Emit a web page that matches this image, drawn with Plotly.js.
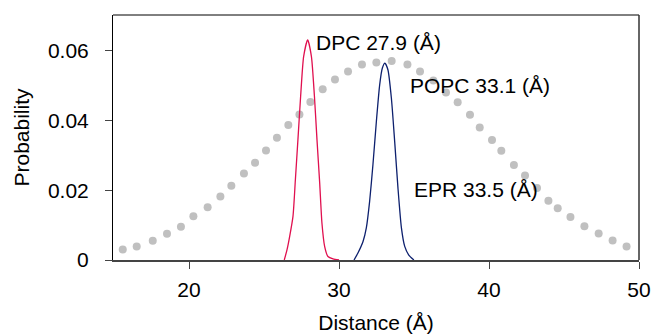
<!DOCTYPE html>
<html>
<head>
<meta charset="utf-8">
<script src="https://cdn.plot.ly/plotly-3.0.1.min.js"></script>
<style>html,body{margin:0;padding:0;background:#fff;}#chart{width:654px;height:334px;}</style>
</head>
<body>
<div id="chart"></div>
<script>
// EPR distance distribution (grey dots)
var eprX = [15.58,16.51,17.58,18.53,19.46,20.29,21.24,22.09,22.82,23.66,24.40,25.13,25.86,26.62,27.36,28.09,28.91,29.73,30.60,31.53,32.49,33.51,34.56,35.40,36.29,37.13,37.91,38.73,39.38,40.20,40.82,41.66,42.40,43.20,43.96,44.58,45.43,46.36,47.31,48.24,49.17];
var eprY = [0.0030,0.0039,0.0055,0.0075,0.0095,0.0125,0.0151,0.0182,0.0213,0.0248,0.0279,0.0314,0.0350,0.0387,0.0417,0.0453,0.0489,0.0517,0.0540,0.0560,0.0566,0.0570,0.0560,0.0540,0.0514,0.0480,0.0452,0.0416,0.0380,0.0344,0.0313,0.0272,0.0242,0.0206,0.0170,0.0148,0.0123,0.0097,0.0076,0.0056,0.0039];
// DPC simulated distribution (red)
var dpcX = [26.35,26.53,26.71,26.93,27.09,27.26,27.44,27.64,27.91,28.16,28.36,28.53,28.71,28.86,29.04,29.26,29.60,30.00];
var dpcY = [0.0000,0.0029,0.0068,0.0125,0.0230,0.0345,0.0469,0.0583,0.0631,0.0583,0.0469,0.0345,0.0221,0.0106,0.0039,0.0010,0.0003,0.0000];
// POPC simulated distribution (blue)
var popcX = [31.00,31.26,31.60,31.82,32.04,32.26,32.49,32.71,32.89,33.06,33.26,33.49,33.71,33.93,34.16,34.38,34.64,34.99];
var popcY = [0.0000,0.0020,0.0053,0.0092,0.0168,0.0273,0.0397,0.0502,0.0550,0.0564,0.0545,0.0464,0.0340,0.0206,0.0092,0.0039,0.0015,0.0000];
var xTicks = [20,30,40,50];
var yTicks = [0,0.02,0.04,0.06];
var yTickText = ['0','0.02','0.04','0.06'];
var labels = ['DPC 27.9 (Å)','POPC 33.1 (Å)','EPR 33.5 (Å)'];
var labelX = [28.31,34.57,34.86];
var labelY = [0.0622,0.0499,0.0201];

var FONT = 'Liberation Sans, Arial, Helvetica, sans-serif';
var traces = [
  {x: eprX, y: eprY, type:'scatter', mode:'markers', marker:{color:'#c0c0c0', size:8}, hoverinfo:'skip'},
  {x: dpcX, y: dpcY, type:'scatter', mode:'lines', line:{color:'#e0104f', width:1.3, shape:'spline', smoothing:0.6}},
  {x: popcX, y: popcY, type:'scatter', mode:'lines', line:{color:'#0d206e', width:1.3, shape:'spline', smoothing:0.6}}
];
var annotations = labels.map(function(t,i){
  return {text:t, x:labelX[i], y:labelY[i], xref:'x', yref:'y', xanchor:'left', yanchor:'middle', showarrow:false, font:{family:FONT, size:21, color:'#000'}};
});
var layout = {
  width:654, height:334,
  margin:{l:113, r:15, t:15, b:74, pad:0},
  paper_bgcolor:'#fff', plot_bgcolor:'#fff',
  showlegend:false,
  font:{family:FONT, size:21, color:'#000'},
  xaxis:{range:[14.93,50], tickvals:xTicks, ticktext:xTicks.map(String), ticks:'outside', ticklen:7, tickwidth:1, tickcolor:'#444',
         showline:true, linecolor:'#444', linewidth:2, showgrid:false, zeroline:false, ticklabelstandoff:3,
         title:{text:'Distance (Å)', font:{family:FONT, size:21, color:'#000'}, standoff:17}, tickfont:{family:FONT,size:21,color:'#000'}},
  yaxis:{range:[0,0.0702], tickvals:yTicks, ticktext:yTickText, ticks:'outside', ticklen:7, tickwidth:1, tickcolor:'#444',
         showline:true, linecolor:'#000', linewidth:1, showgrid:false, zeroline:false, ticklabelstandoff:12,
         title:{text:'Probability', font:{family:FONT, size:21, color:'#000'}, standoff:12}, tickfont:{family:FONT,size:21,color:'#000'}},
  shapes:[
    {type:'line', xref:'paper', yref:'paper', x0:0, x1:1, y0:1, y1:1, line:{color:'#000', width:1}},
    {type:'line', xref:'paper', yref:'paper', x0:1, x1:1, y0:0, y1:1, line:{color:'#333', width:1.5}}
  ],
  annotations:annotations
};
Plotly.newPlot('chart', traces, layout, {staticPlot:true, displayModeBar:false});
</script>
</body>
</html>
